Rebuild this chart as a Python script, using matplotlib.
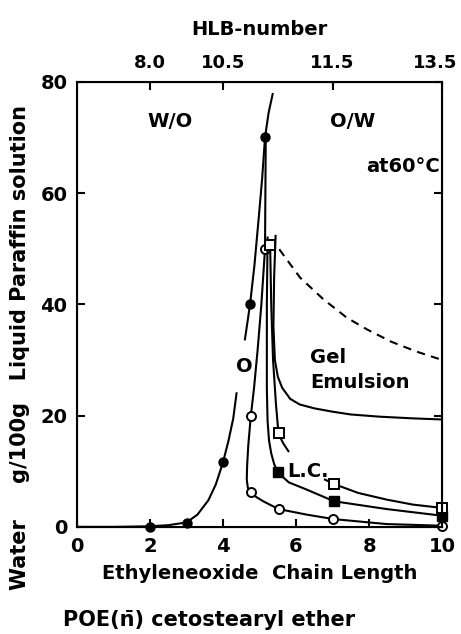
import matplotlib.pyplot as plt
import matplotlib.transforms as mtransforms

# lower-left branch (filled circles), drawn in two pieces around the "O" label
fc_curve_lo_x = [0, 1, 2, 2.5, 3, 3.3, 3.6, 3.8, 4.0, 4.15, 4.28, 4.37]
fc_curve_lo_y = [0, 0, 0.1, 0.3, 0.8, 2.2, 4.8, 7.6, 11.6, 15.5, 19.5, 24.0]
fc_curve_hi_x = [4.6, 4.74, 4.86, 4.97, 5.07, 5.15, 5.25, 5.36]
fc_curve_hi_y = [33.7, 40, 47, 55, 62.5, 70, 74.5, 77.8]
fc_x = [2, 3, 4, 4.74, 5.15]
fc_y = [0, 0.7, 11.6, 40, 70]

# open circles
oc_curve_x = [5.17, 5.16, 5.15, 5.1, 5.05, 4.95, 4.85, 4.76, 4.69, 4.66, 4.65, 4.68, 4.76, 4.9, 5.1, 5.52, 6.29, 7.02, 8.48, 10]
oc_curve_y = [70, 60, 50, 45, 40, 32, 25, 19.9, 14.5, 11, 8.5, 7.0, 6.2, 5.4, 4.6, 3.2, 2.2, 1.4, 0.5, 0.2]
oc_x = [5.15, 4.76, 4.76, 5.52, 7.02, 10]
oc_y = [50, 19.9, 6.2, 3.2, 1.4, 0.2]

# filled squares
fs_curve_x = [5.22, 5.2, 5.2, 5.22, 5.26, 5.32, 5.4, 5.5, 5.8, 6.29, 7.04, 8.48, 10]
fs_curve_y = [52, 40, 25, 19, 15.5, 13.2, 11.3, 9.8, 8.0, 6.7, 4.6, 3.2, 2.0]
fs_x = [5.5, 7.04, 10]
fs_y = [9.8, 4.6, 2.0]

# open squares (broken at the L.C. label)
os_curve1_x = [5.29, 5.32, 5.37, 5.45, 5.52, 5.65, 5.79]
os_curve1_y = [50.6, 40, 30, 22, 16.7, 15.0, 13.6]
os_curve2_x = [6.79, 7.04, 7.7, 8.48, 9.2, 10]
os_curve2_y = [8.5, 7.7, 6.1, 4.9, 4.0, 3.4]
os_x = [5.29, 5.52, 7.04, 10]
os_y = [50.6, 16.8, 7.7, 3.4]

# gel emulsion boundary
gel_x = [5.44, 5.4, 5.38, 5.42, 5.5, 5.62, 5.84, 6.1, 6.5, 7.0, 7.5, 8.3, 9.2, 10]
gel_y = [52.3, 45, 36, 30, 27, 25, 23, 22, 21.3, 20.7, 20.2, 19.8, 19.5, 19.3]

# dashed boundary
dash_x = [5.54, 6.11, 6.75, 7.39, 7.94, 8.6, 9.3, 10]
dash_y = [49.9, 44.8, 40.9, 37.6, 35.5, 33.3, 31.5, 30.0]

hlb_pos = [2, 4, 7, 10]
hlb_labels = ['8.0', '10.5', '11.5', '13.5']

plt.rcParams['font.family'] = 'DejaVu Sans'
plt.rcParams['font.weight'] = 'bold'

fig = plt.figure(figsize=(4.61, 6.34), dpi=100)
ax = fig.add_axes([0.167, 0.169, 0.792, 0.702])

lw = 1.5
ax.plot(fc_curve_lo_x, fc_curve_lo_y, 'k-', lw=lw)
ax.plot(fc_curve_hi_x, fc_curve_hi_y, 'k-', lw=lw)
ax.plot(fc_x, fc_y, 'ko', ms=6.5, clip_on=False)
ax.plot(oc_curve_x, oc_curve_y, 'k-', lw=lw)
ax.plot(oc_x, oc_y, 'o', mfc='white', mec='k', mew=1.4, ms=6.5, clip_on=False)
ax.plot(fs_curve_x, fs_curve_y, 'k-', lw=lw)
ax.plot(fs_x, fs_y, 'ks', ms=6.5, clip_on=False)
ax.plot(os_curve1_x, os_curve1_y, 'k-', lw=lw)
ax.plot(os_curve2_x, os_curve2_y, 'k-', lw=lw)
ax.plot(os_x, os_y, 's', mfc='white', mec='k', mew=1.4, ms=6.5, clip_on=False)
ax.plot(gel_x, gel_y, 'k-', lw=lw)
ax.plot(dash_x, dash_y, 'k--', lw=lw, dashes=(4, 3))

ax.set_xlim(0, 10)
ax.set_ylim(0, 80)
ax.set_xticks(range(0, 11, 2))
ax.set_yticks(range(0, 81, 20))
ax.tick_params(direction='in', length=6, width=1.5, labelsize=14, pad=7)
ax.tick_params(axis='y', right=True)
for s in ax.spines.values():
    s.set_linewidth(1.5)

ax.set_xlabel('Ethyleneoxide  Chain Length', fontsize=14, fontweight='bold', labelpad=6)

top = ax.twiny()
top.set_xlim(0, 10)
top.set_xticks(hlb_pos)
top.set_xticklabels(hlb_labels)
top.tick_params(direction='in', length=6, width=1.5, labelsize=13, pad=7)
top.set_xlabel('HLB-number', fontsize=14, fontweight='bold', labelpad=14)
# pull the last top label in a little so it stays inside the figure
last = top.get_xticklabels()[-1]
last.set_transform(last.get_transform() + mtransforms.ScaledTranslation(-7 / 100, 0, fig.dpi_scale_trans))

fs = 14
ax.text(2.55, 72.8, 'W/O', fontsize=fs, ha='center', va='center')
ax.text(7.56, 72.8, 'O/W', fontsize=fs, ha='center', va='center')
ax.text(9.95, 64.7, 'at60°C', fontsize=fs, ha='right', va='center')
ax.text(6.38, 30.5, 'Gel', fontsize=fs, ha='left', va='center')
ax.text(6.38, 26.0, 'Emulsion', fontsize=fs, ha='left', va='center')
ax.text(5.75, 10.0, 'L.C.', fontsize=fs, ha='left', va='center')
ax.text(4.58, 28.9, 'O', fontsize=fs, ha='center', va='center')

fig.text(20 / 461, 1 - 347 / 634, 'Water     g/100g   Liquid Paraffin solution',
         rotation=90, ha='center', va='center', fontsize=15, fontweight='bold')
fig.text(63 / 461, 1 - 620 / 634, 'POE(n\u0304) cetostearyl ether',
         ha='left', va='center', fontsize=15, fontweight='bold')

plt.savefig('out.png', dpi=100)
